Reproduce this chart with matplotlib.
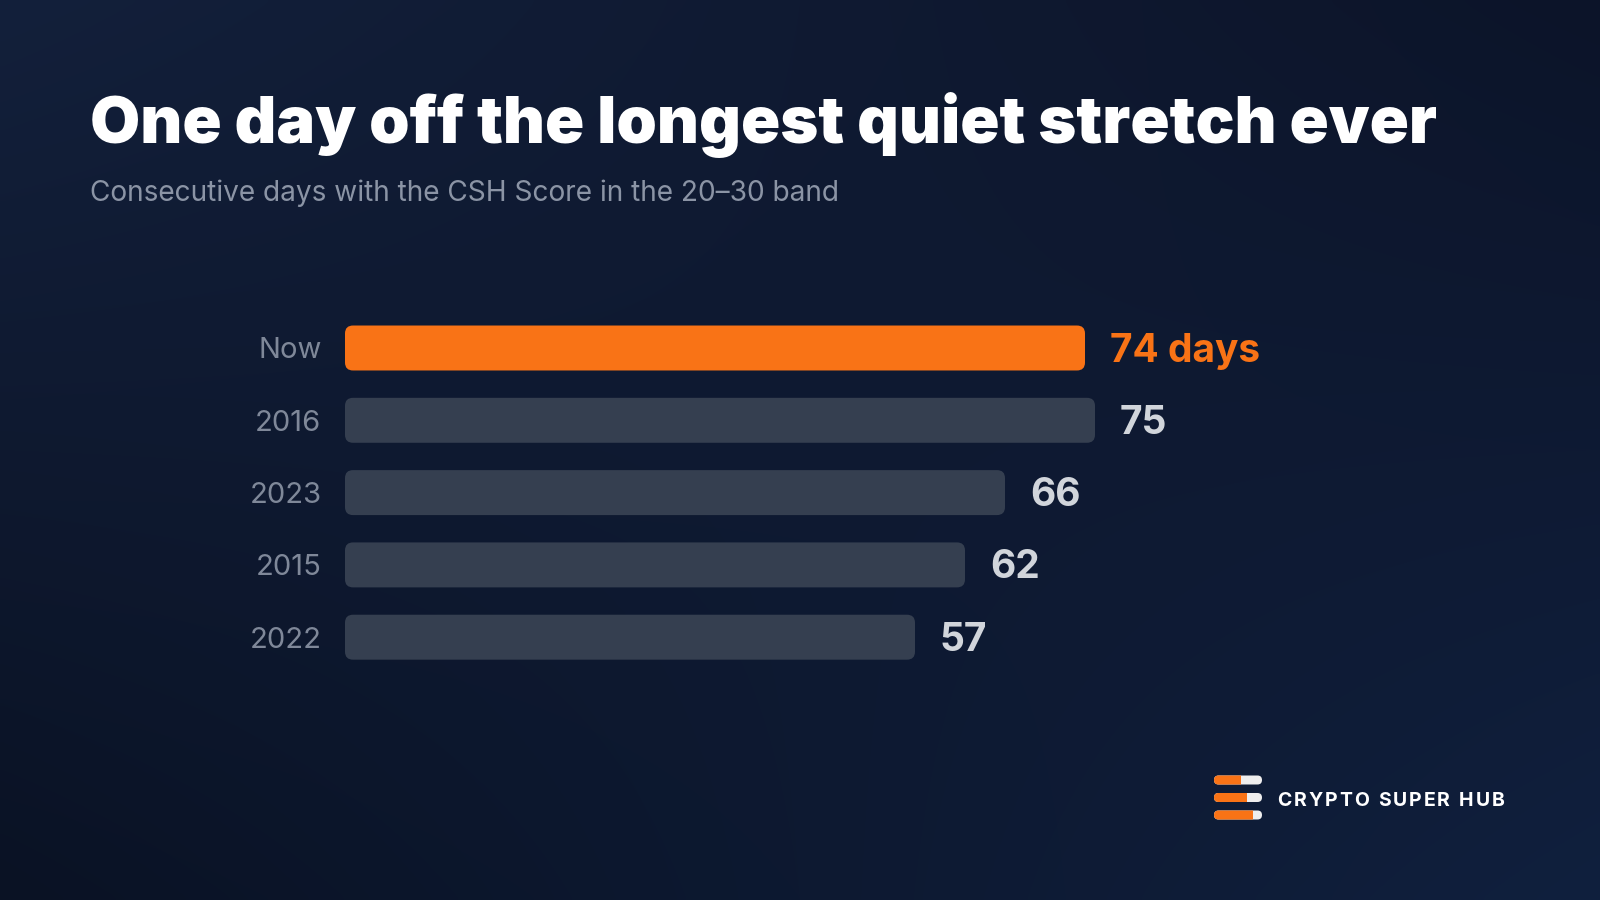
import numpy as np
import matplotlib
matplotlib.use("Agg")
import matplotlib.pyplot as plt
from matplotlib.patches import FancyBboxPatch, Rectangle

# ---- data ----
categories = ["Now", "2016", "2023", "2015", "2022"]
values = [74, 75, 66, 62, 57]
value_labels = ["74 days", "75", "66", "62", "57"]
title = "One day off the longest quiet stretch ever"
subtitle = "Consecutive days with the CSH Score in the 20\u201330 band"
brand = "CRYPTO SUPER HUB"

ORANGE = "#f97316"
BAR_GREY = "#353f50"
LABEL_GREY = "#7f8899"
VALUE_GREY = "#d1d5db"
SUB_GREY = "#8b94a5"

FONT = "Inter"

W, H = 1600, 900
fig = plt.figure(figsize=(16, 9), dpi=100)

# background overlay axes in pixel coords
ax0 = fig.add_axes([0, 0, 1, 1])
ax0.set_xlim(0, W)
ax0.set_ylim(H, 0)
ax0.axis("off")

def hex2rgb(h):
    h = h.lstrip("#")
    return np.array([int(h[i:i+2], 16) / 255 for i in (0, 2, 4)])

tl, tr, bl, br = hex2rgb("#13203b"), hex2rgb("#0c1429"), hex2rgb("#0a1224"), hex2rgb("#10203e")
yy, xx = np.mgrid[0:1:180j, 0:1:320j]
img = (tl[None, None] * ((1 - xx) * (1 - yy))[..., None] + tr[None, None] * (xx * (1 - yy))[..., None]
       + bl[None, None] * ((1 - xx) * yy)[..., None] + br[None, None] * (xx * yy)[..., None])
ax0.imshow(img, extent=[0, W, H, 0], aspect="auto", interpolation="bicubic", zorder=0)

renderer = fig.canvas.get_renderer()

def fit_text(x, y, s, target_w, size, **kw):
    t = ax0.text(x, y, s, fontsize=size, va="baseline", ha="left", **kw)
    w = t.get_window_extent(renderer).width
    t.set_fontsize(size * target_w / w)
    return t

fit_text(90, 143, title, 1342, 46, color="white", family=FONT, weight="black")
fit_text(90, 201, subtitle, 750, 19, color=SUB_GREY, family=FONT, weight="normal")

# ---- bar chart axes: 0 days at x=345 px, 10 px/day ----
x0_px, px_per_day = 345, 10.0
slot = 72.3
y_top = 348 - slot / 2
ax = fig.add_axes([x0_px / W, 1 - (y_top + 5 * slot) / H, 1250 / W, 5 * slot / H])
ax.set_xlim(0, 125)
ax.set_ylim(4.5, -0.5)
ax.patch.set_alpha(0)
for sp in ax.spines.values():
    sp.set_visible(False)
ax.set_xticks([])
ypos = np.arange(len(categories))
ax.set_yticks(ypos)
ax.set_yticklabels(categories, family=FONT)
ax.tick_params(axis="y", length=0, pad=17, labelsize=21, labelcolor=LABEL_GREY)

colors = [ORANGE] + [BAR_GREY] * (len(categories) - 1)
bars = ax.barh(ypos, values, height=0.622, color=colors)
aspect = px_per_day / slot
for b, c in zip(bars, colors):
    x, y, w, h = b.get_x(), b.get_y(), b.get_width(), b.get_height()
    fb = FancyBboxPatch((x, y), w, h, boxstyle="round,pad=0,rounding_size=0.8",
                        mutation_aspect=aspect, facecolor=c, edgecolor="none")
    ax.add_patch(fb)
    b.remove()

for i, (v, lab) in enumerate(zip(values, value_labels)):
    ax.annotate(lab, xy=(v, i), xytext=(18, -2.2), textcoords="offset points",
                va="center", ha="left", fontsize=28, fontweight="bold", family=FONT,
                color=ORANGE if i == 0 else VALUE_GREY)

# ---- logo ----
pill_x, pill_w, pill_h = 1214, 48, 9
for cy, split in [(780, 1241), (797.5, 1247), (815, 1253)]:
    base = FancyBboxPatch((pill_x, cy - pill_h / 2), pill_w, pill_h,
                          boxstyle=f"round,pad=0,rounding_size={pill_h/2}",
                          facecolor="#eeeeee", edgecolor="none", zorder=3)
    ax0.add_patch(base)
    org = FancyBboxPatch((pill_x, cy - pill_h / 2), pill_w, pill_h,
                         boxstyle=f"round,pad=0,rounding_size={pill_h/2}",
                         facecolor=ORANGE, edgecolor="none", zorder=4)
    ax0.add_patch(org)
    clip = Rectangle((pill_x - 1, cy - pill_h), split - pill_x + 1, 2 * pill_h, transform=ax0.transData)
    org.set_clip_path(clip)

# letter-spaced brand text
bx = 1277
size = 14
spacing = 2.0
for ch in brand:
    if ch == " ":
        bx += size * 100 / 72 * 0.26 + spacing
        continue
    t = ax0.text(bx, 800.5, ch, fontsize=size, fontweight="bold", family=FONT, color="white",
                 va="center", ha="left", zorder=5)
    bx += t.get_window_extent(renderer).width + spacing

fig.savefig("out.png", dpi=100)
